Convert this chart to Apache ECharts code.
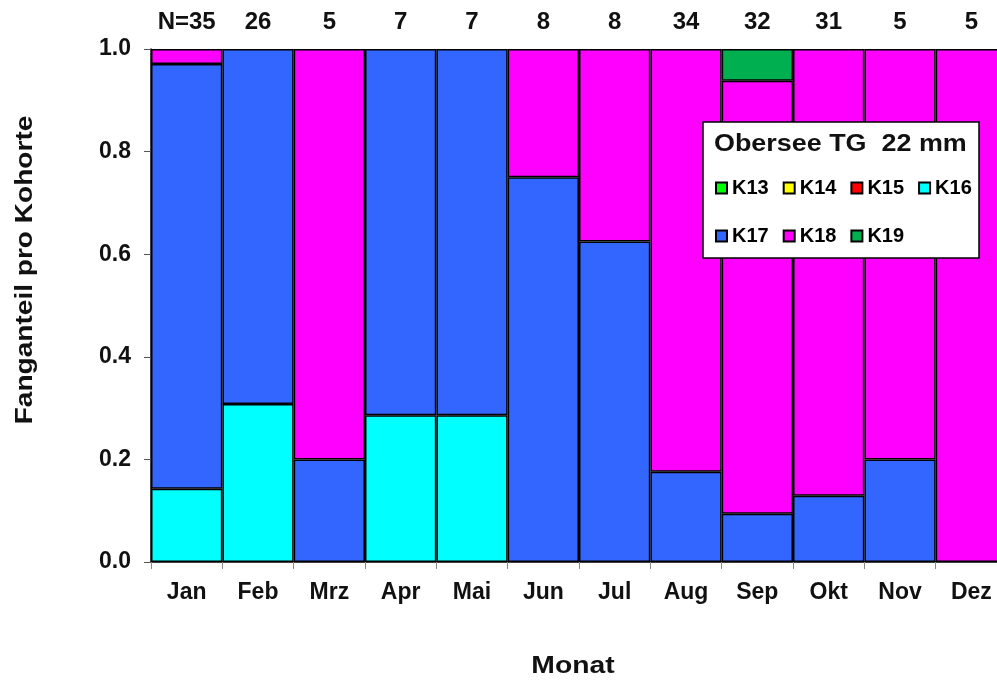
<!DOCTYPE html>
<html>
<head>
<meta charset="utf-8">
<script src="https://cdn.jsdelivr.net/npm/echarts@6/dist/echarts.min.js"></script>
<style>
  html, body { margin: 0; padding: 0; background: #fff; }
  #chart { width: 997px; height: 684px; }
</style>
</head>
<body>
<div id="chart"></div>
<script>
// Monate und Stichprobengroesse
const months = ['Jan', 'Feb', 'Mrz', 'Apr', 'Mai', 'Jun', 'Jul', 'Aug', 'Sep', 'Okt', 'Nov', 'Dez'];
const nLabels = ['N=35', '26', '5', '7', '7', '8', '8', '34', '32', '31', '5', '5'];

// Fanganteil je Kohorte (K13..K19)
const k13 = [0, 0, 0, 0, 0, 0, 0, 0, 0, 0, 0, 0];
const k14 = [0, 0, 0, 0, 0, 0, 0, 0, 0, 0, 0, 0];
const k15 = [0, 0, 0, 0, 0, 0, 0, 0, 0, 0, 0, 0];
const k16 = [0.143, 0.308, 0, 0.286, 0.286, 0, 0, 0, 0, 0, 0, 0];
const k17 = [0.828, 0.692, 0.2, 0.714, 0.714, 0.75, 0.625, 0.176, 0.094, 0.129, 0.2, 0];
const k18 = [0.029, 0, 0.8, 0, 0, 0.25, 0.375, 0.824, 0.844, 0.871, 0.8, 1.0];
const k19 = [0, 0, 0, 0, 0, 0, 0, 0, 0.062, 0, 0, 0];

const yTicks = [0, 0.2, 0.4, 0.6, 0.8, 1.0];

const cohorts = [
  { name: 'K13', data: k13, color: '#00FF00' },
  { name: 'K14', data: k14, color: '#FFFF00' },
  { name: 'K15', data: k15, color: '#FF0000' },
  { name: 'K16', data: k16, color: '#00FFFF' },
  { name: 'K17', data: k17, color: '#3366FF' },
  { name: 'K18', data: k18, color: '#FF00FF' },
  { name: 'K19', data: k19, color: '#00B050' }
];

const font = 'Liberation Sans, Arial, sans-serif';

let chart = echarts.init(document.getElementById('chart'), null, { renderer: 'canvas' });

let series = cohorts.map(c => ({
  name: c.name,
  type: 'bar',
  stack: 'total',
  barCategoryGap: 0,
  data: c.data.map(v => (v > 0 ? v : '-')),
  itemStyle: {
    color: c.color,
    borderColor: '#000',
    borderWidth: 1.5
  },
  emphasis: { disabled: true }
}));

let legendBase = {
  orient: 'horizontal',
  icon: 'rect',
  itemWidth: 11,
  itemHeight: 11,
  itemGap: 14,
  padding: 0,
  z: 20,
  selectedMode: false,
  textStyle: { fontFamily: font, fontWeight: 'bold', fontSize: 20, color: '#000' }
};

let option = {
  animation: false,
  backgroundColor: '#fff',
  grid: { left: 151, width: 856, top: 49, bottom: 122, containLabel: false, outerBoundsMode: 'none' },
  xAxis: [{
    type: 'category',
    data: months,
    position: 'bottom',
    axisLine: { lineStyle: { color: '#000', width: 1.5 } },
    axisTick: { show: true, length: 7, lineStyle: { color: '#888' } },
    axisLabel: { interval: 0, margin: 19, fontFamily: font, fontWeight: 'bold', fontSize: 23, color: '#111' }
  }, {
    type: 'category',
    data: nLabels,
    position: 'top',
    axisLine: { lineStyle: { color: '#aaa', width: 1 } },
    axisTick: { show: false },
    axisLabel: { interval: 0, hideOverlap: false, margin: 15, fontFamily: font, fontWeight: 'bold', fontSize: 24, color: '#111' }
  }],
  yAxis: {
    type: 'value',
    min: 0,
    max: 1,
    interval: 0.2,
    splitLine: { show: false },
    axisLine: { show: true, lineStyle: { color: '#000', width: 1.5 } },
    axisTick: { show: true, length: 7, lineStyle: { color: '#555' } },
    axisLabel: {
      margin: 20,
      fontFamily: font, fontWeight: 'bold', fontSize: 23, color: '#111',
      formatter: v => yTicks.indexOf(v) >= 0 ? v.toFixed(1) : ''
    }
  },
  legend: [
    Object.assign({}, legendBase, { data: ['K13', 'K14', 'K15', 'K16'], left: 715, top: 178 }),
    Object.assign({}, legendBase, { data: ['K17', 'K18', 'K19'], left: 715, top: 226 })
  ],
  graphic: [
    {
      type: 'rect', z: 10,
      shape: { x: 703, y: 122, width: 276, height: 136 },
      style: { fill: '#fff', stroke: '#000', lineWidth: 1.5 }
    },
    {
      type: 'text', z: 11, x: 714, y: 145, scaleX: 1.17,
      style: { text: 'Obersee TG  22 mm', font: 'bold 23px ' + font, fill: '#111', textVerticalAlign: 'middle' }
    },
    {
      type: 'text', z: 11,
      rotation: Math.PI / 2,
      x: 26, y: 270, scaleX: 1.22,
      style: { text: 'Fanganteil pro Kohorte', font: 'bold 23px ' + font, fill: '#111', textAlign: 'center', textVerticalAlign: 'middle' }
    },
    {
      type: 'text', z: 11,
      x: 573, y: 666, scaleX: 1.18,
      style: { text: 'Monat', font: 'bold 24px ' + font, fill: '#111', textAlign: 'center', textVerticalAlign: 'middle' }
    }
  ],
  series: series
};

chart.setOption(option);
</script>
</body>
</html>
